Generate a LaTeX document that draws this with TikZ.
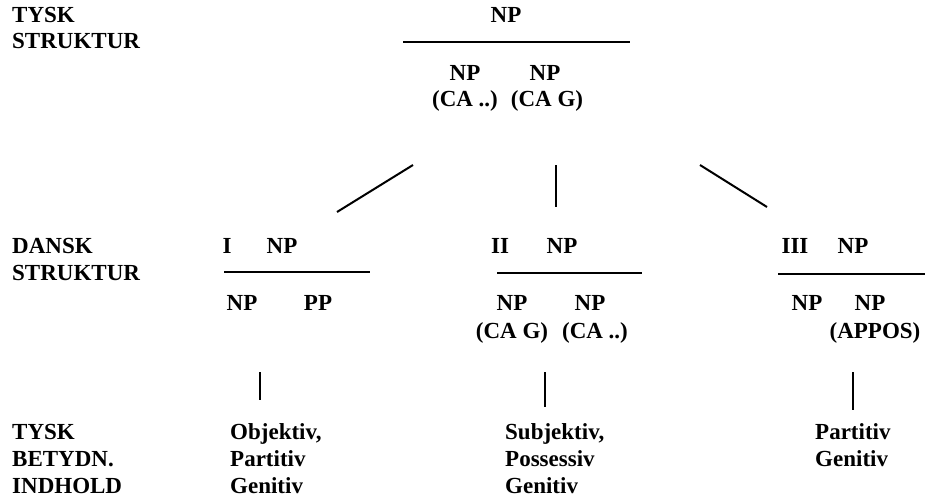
\documentclass[tikz,border=0pt]{standalone}
\usepackage{fontspec}
\setmainfont{Liberation Serif}
\begin{document}
\begin{tikzpicture}[x=1pt,y=-1pt,
  lbl/.style={anchor=base west,inner sep=0pt,font=\fontsize{23}{27}\selectfont\bfseries},
  txt/.style={anchor=base,inner sep=0pt,font=\fontsize{23}{27}\selectfont\bfseries},
  ln/.style={line width=2pt}]
\useasboundingbox (0,0) rectangle (936,498);
% left labels
\node[lbl] (l1) at (12,22) {TYSK};
\node[lbl] (l2) at (12,48) {STRUKTUR};
\node[lbl] (l3) at (12,253) {DANSK};
\node[lbl] (l4) at (12,280) {STRUKTUR};
\node[lbl] (l5) at (12,439) {TYSK};
\node[lbl] (l6) at (12,466) {BETYDN.};
\node[lbl] (l7) at (12,493) {INDHOLD};
% top structure
\node[txt] (tnp) at (506,22) {NP};
\coordinate (tb1) at (403,42); \coordinate (tb2) at (630,42);
\draw[ln] (tb1) -- (tb2);
\node[txt] (tnp1) at (465,80) {NP};
\node[txt] (tnp2) at (545,80) {NP};
\node[txt] (tca1) at (465,106) {(CA ..)};
\node[txt] (tca2) at (547,106) {(CA G)};
% branches
\coordinate (d1a) at (413,165); \coordinate (d1b) at (337,212);
\coordinate (d2a) at (556,165); \coordinate (d2b) at (556,207);
\coordinate (d3a) at (700,165); \coordinate (d3b) at (767,207);
\draw[ln] (d1a) -- (d1b);
\draw[ln] (d2a) -- (d2b);
\draw[ln] (d3a) -- (d3b);
% I
\node[txt] (i) at (227,253) {I};
\node[txt] (inp) at (282,253) {NP};
\coordinate (ib1) at (224,272); \coordinate (ib2) at (370,272);
\draw[ln] (ib1) -- (ib2);
\node[txt] (inp1) at (242,310) {NP};
\node[txt] (ipp) at (318,310) {PP};
% II
\node[txt] (ii) at (500,253) {II};
\node[txt] (iinp) at (562,253) {NP};
\coordinate (iib1) at (497,273); \coordinate (iib2) at (642,273);
\draw[ln] (iib1) -- (iib2);
\node[txt] (iinp1) at (512,310) {NP};
\node[txt] (iinp2) at (590,310) {NP};
\node[txt] (iica1) at (512,338) {(CA G)};
\node[txt] (iica2) at (595,338) {(CA ..)};
% III
\node[txt] (iii) at (795,253) {III};
\node[txt] (iiinp) at (853,253) {NP};
\coordinate (iiib1) at (778,274); \coordinate (iiib2) at (925,274);
\draw[ln] (iiib1) -- (iiib2);
\node[txt] (iiinp1) at (807,310) {NP};
\node[txt] (iiinp2) at (870,310) {NP};
\node[txt] (iiiap) at (875,338) {(APPOS)};
% verticals
\coordinate (v1a) at (260,372); \coordinate (v1b) at (260,400);
\coordinate (v2a) at (545,372); \coordinate (v2b) at (545,407);
\coordinate (v3a) at (853,372); \coordinate (v3b) at (853,410);
\draw[ln] (v1a) -- (v1b);
\draw[ln] (v2a) -- (v2b);
\draw[ln] (v3a) -- (v3b);
% bottom meanings
\node[lbl] (m1a) at (230,439) {Objektiv,};
\node[lbl] (m1b) at (230,466) {Partitiv};
\node[lbl] (m1c) at (230,493) {Genitiv};
\node[lbl] (m2a) at (505,439) {Subjektiv,};
\node[lbl] (m2b) at (505,466) {Possessiv};
\node[lbl] (m2c) at (505,493) {Genitiv};
\node[lbl] (m3a) at (815,439) {Partitiv};
\node[lbl] (m3b) at (815,466) {Genitiv};
\end{tikzpicture}
\end{document}
